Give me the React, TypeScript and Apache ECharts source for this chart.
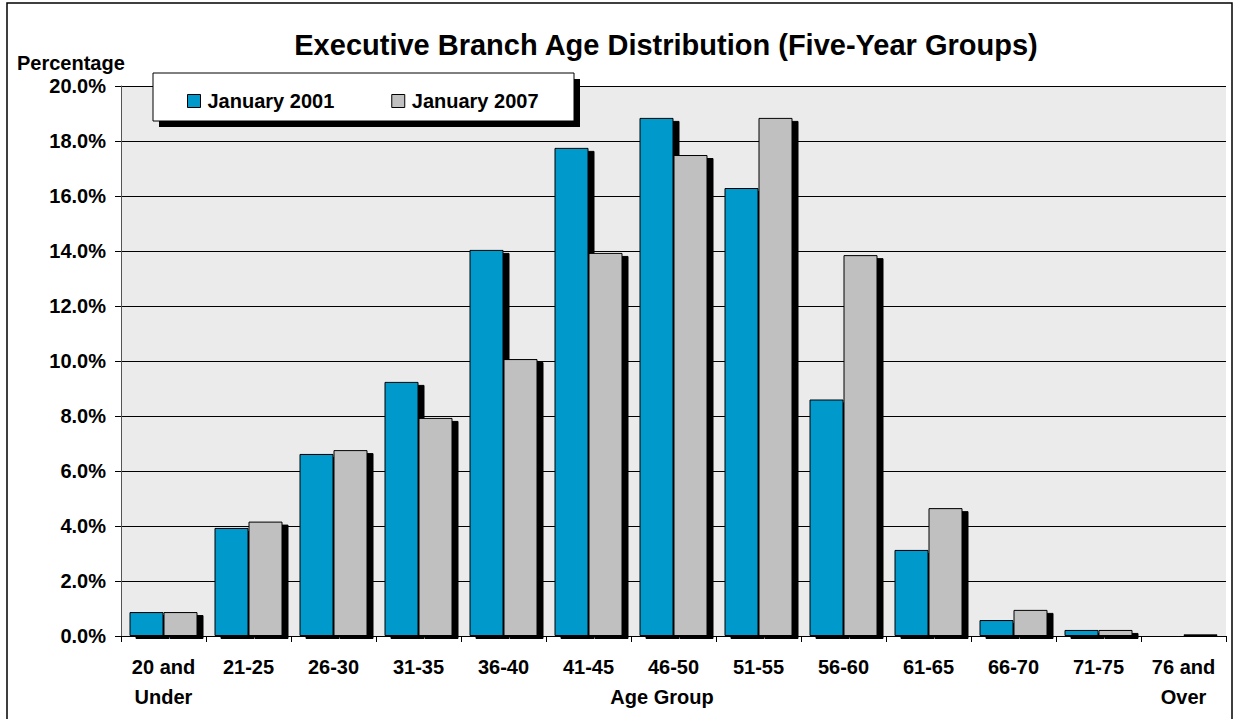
import React, { useEffect, useRef } from "react";
import * as echarts from "echarts";

const categories = [
  "20 and\nUnder", "21-25", "26-30", "31-35", "36-40", "41-45", "46-50",
  "51-55", "56-60", "61-65", "66-70", "71-75", "76 and\nOver",
];
const jan2001 = [0.87, 3.93, 6.62, 9.24, 14.04, 17.75, 18.84, 16.29, 8.6, 3.13, 0.58, 0.22, 0.02];
const jan2007 = [0.87, 4.16, 6.76, 7.93, 10.07, 13.93, 17.49, 18.84, 13.85, 4.65, 0.95, 0.22, 0.06];
const yTicks = { min: 0, max: 20, interval: 2 };

const FONT = "Arial, 'Liberation Sans', sans-serif";

export default function App() {
  const ref = useRef<HTMLDivElement>(null);
  useEffect(() => {
    if (!ref.current) return;
    const chart = echarts.init(ref.current, undefined, { renderer: "svg" });
    const barStyle = (color: string) => ({
      color,
      borderColor: "#000",
      borderWidth: 1,
      shadowColor: "#000",
      shadowOffsetX: 6,
      shadowOffsetY: 3,
      shadowBlur: 0,
    });
    chart.setOption({
      animation: false,
      backgroundColor: "#fff",
      textStyle: { fontFamily: FONT },
      title: {
        text: "Executive Branch Age Distribution (Five-Year Groups)",
        left: 661,
        textAlign: "center",
        top: 25,
        textStyle: { fontSize: 29, fontWeight: "bold", color: "#000", fontFamily: FONT },
      },
      grid: {
        left: 121,
        right: 12,
        top: 86,
        bottom: 83,
        show: true,
        backgroundColor: "#ebebeb",
        borderWidth: 0,
      },
      legend: {
        left: 182,
        top: 86,
        itemWidth: 13,
        itemHeight: 13,
        itemGap: 57,
        icon: "rect",
        z: 20,
        textStyle: { fontSize: 20, fontWeight: "bold", color: "#000", fontFamily: FONT, padding: [0, 0, 0, 2] },
        itemStyle: { borderColor: "#000", borderWidth: 1, shadowOffsetX: 0, shadowOffsetY: 0, shadowColor: "transparent" },
      },
      xAxis: {
        type: "category",
        data: categories,
        axisLine: { lineStyle: { color: "#000", width: 1 } },
        axisTick: { show: true, length: 6, lineStyle: { color: "#000" } },
        axisLabel: {
          color: "#000",
          fontSize: 20,
          fontWeight: "bold",
          margin: 16,
          lineHeight: 30,
          interval: 0,
          fontFamily: FONT,
        },
      },
      yAxis: {
        type: "value",
        min: yTicks.min,
        max: yTicks.max,
        interval: yTicks.interval,
        axisLine: { show: true, lineStyle: { color: "#555" } },
        axisTick: { show: true, length: 6, lineStyle: { color: "#000" } },
        splitLine: { lineStyle: { color: "#000", width: 1 } },
        axisLabel: {
          color: "#000",
          fontSize: 20,
          fontWeight: "bold",
          margin: 15,
          fontFamily: FONT,
          formatter: (v: number) => v.toFixed(1) + "%",
        },
      },
      series: [
        {
          name: "January 2001",
          type: "bar",
          data: jan2001,
          barWidth: 34,
          barGap: "0%",
          itemStyle: barStyle("#0099cc"),
        },
        {
          name: "January 2007",
          type: "bar",
          data: jan2007,
          barWidth: 34,
          barGap: "0%",
          itemStyle: barStyle("#c0c0c0"),
        },
      ],
      graphic: [
        {
          type: "rect",
          shape: { x: 7, y: 3, width: 1225, height: 730 },
          style: { fill: "none", stroke: "#000", lineWidth: 1.5 },
          silent: true,
          z: 0,
        },
        {
          type: "rect",
          shape: { x: 159, y: 79, width: 421, height: 48 },
          style: { fill: "#000" },
          z: 10,
        },
        {
          type: "rect",
          shape: { x: 153, y: 73, width: 421, height: 48 },
          style: { fill: "#fff", stroke: "#000", lineWidth: 1 },
          z: 11,
        },
        {
          type: "text",
          x: 17,
          y: 63,
          style: {
            text: "Percentage",
            fill: "#000",
            font: "bold 20px " + FONT,
            align: "left",
            verticalAlign: "middle",
          },
        },
        {
          type: "text",
          x: 662,
          y: 697,
          style: {
            text: "Age Group",
            fill: "#000",
            font: "bold 20px " + FONT,
            align: "center",
            verticalAlign: "middle",
          },
        },
      ],
    });
    return () => chart.dispose();
  }, []);
  return (
    <div
      ref={ref}
      style={{ position: "fixed", left: 0, top: 0, width: 1238, height: 719 }}
    />
  );
}
